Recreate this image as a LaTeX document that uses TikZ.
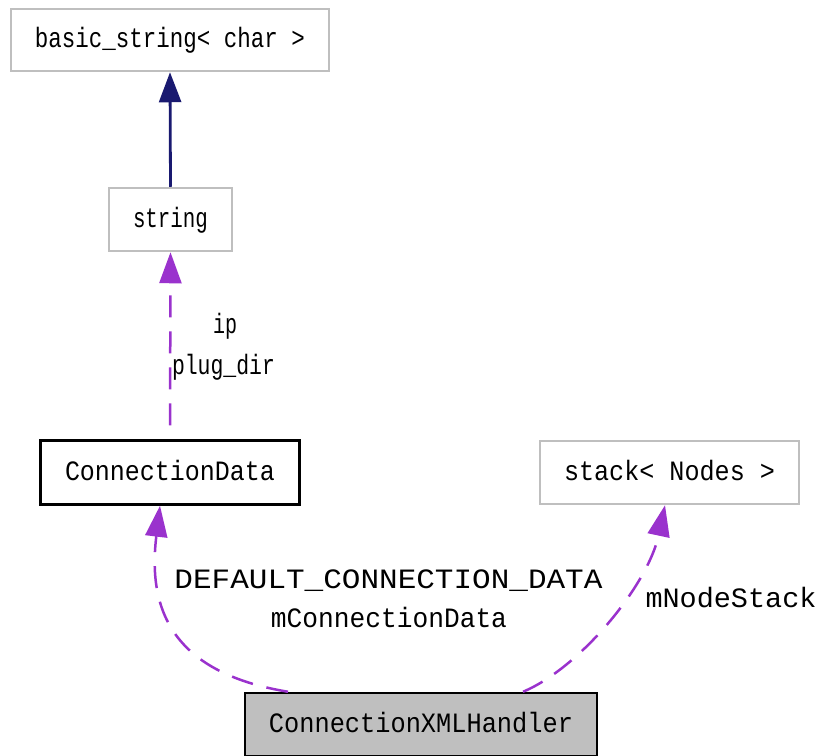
\documentclass[tikz,border=0pt]{standalone}
\usepackage{fontspec}
\usepackage{graphicx}
\setmainfont{Liberation Mono}
\usetikzlibrary{arrows.meta}
\definecolor{edgepurple}{HTML}{9A32CD}
\definecolor{edgenavy}{HTML}{191970}
\definecolor{boxgray}{HTML}{BFBFBF}
\newcommand{\fitw}[2]{\resizebox{#1pt}{\height}{#2}}
\tikzset{
  cls/.style={draw=boxgray, line width=2.5pt, fill=white, inner sep=0pt, text height=18pt, text depth=3pt, font=\fontsize{28}{32}\selectfont},
  clsblack/.style={cls, draw=black},
  clsmain/.style={cls, draw=black, fill=boxgray},
  lbl/.style={inner sep=0pt, anchor=base, font=\fontsize{28}{32}\selectfont},
  inherit/.style={draw=edgenavy, line width=2.8pt, -{Triangle[length=30pt,width=22pt]}},
  usage/.style={draw=edgepurple, line width=2.5pt, dash pattern=on 22pt off 14pt, -{Triangle[length=31pt,width=22pt]}}
}
\begin{document}
\begin{tikzpicture}[x=1pt,y=-1pt]
\useasboundingbox (0,0) rectangle (819,755);
\node[cls, minimum width=318pt, minimum height=62pt] (bs) at (170,40) {\fitw{270}{basic\_string< char >}};
\node[cls, minimum width=123pt, minimum height=63pt] (str) at (170.5,219.5) {\fitw{75}{string}};
\node[clsblack, minimum width=259pt, minimum height=64pt] (cd) at (170,472.5) {\fitw{210}{ConnectionData}};
\node[cls, minimum width=259pt, minimum height=63pt] (stk) at (669.5,472.5) {\fitw{211}{stack< Nodes >}};
\node[clsmain, minimum width=352pt, minimum height=63pt] (cx) at (421,724.5) {\fitw{304}{ConnectionXMLHandler}};

\draw[inherit] (str.north) -- (bs.south);
\draw[usage, dash phase=22pt] (cd.north) -- (str.south);
\draw[usage] ([xshift=-133pt]cx.north) .. controls (168,672) and (148,605) .. ([xshift=-10pt]cd.south);
\draw[usage] ([xshift=102pt]cx.north) .. controls (580,668) and (648,585) .. ([xshift=-4.5pt]stk.south);

\node[lbl] (lip) at (225,333) {\fitw{24}{ip}};
\node[lbl] (lplug) at (223.5,374) {\fitw{103}{plug\_dir}};
\node[lbl] (ldef) at (388.5,588) {\fitw{428}{DEFAULT\_CONNECTION\_DATA}};
\node[lbl] (lmcd) at (389,627) {\fitw{236}{mConnectionData}};
\node[lbl] (lmns) at (731,607) {\fitw{171}{mNodeStack}};
\end{tikzpicture}
\end{document}
